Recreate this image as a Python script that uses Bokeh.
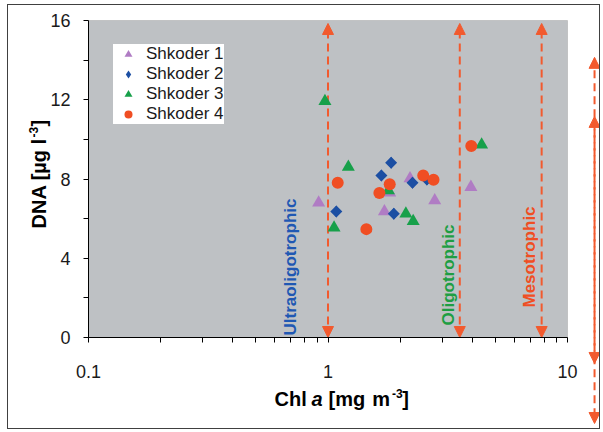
import math
from bokeh.plotting import figure
from bokeh.models import (FixedTicker, Arrow, NormalHead, Label, Legend, LegendItem,
                          Range1d, NumeralTickFormatter, BoxAnnotation)
from bokeh.embed import file_html
from bokeh.resources import INLINE

# ---------------- data ----------------
series_names = ["Shkoder 1", "Shkoder 2", "Shkoder 3", "Shkoder 4"]
s1_chl = [0.914, 1.72, 1.81, 2.20, 2.79, 3.95]
s1_dna = [6.80, 6.36, 7.31, 8.02, 6.92, 7.59]
s2_chl = [1.083, 1.835, 1.671, 1.883, 2.253, 2.588]
s2_dna = [6.36, 8.82, 8.18, 6.25, 7.81, 7.98]
s3_chl = [0.971, 1.216, 1.060, 1.788, 2.114, 2.268, 4.38]
s3_dna = [11.92, 8.60, 5.54, 7.42, 6.25, 5.87, 9.73]
s4_chl = [1.098, 1.446, 1.81, 1.639, 2.498, 2.758, 3.965]
s4_dna = [7.81, 5.47, 7.74, 7.29, 8.18, 7.96, 9.66]

x_lim = [0.1, 10]
y_lim = [0, 16]
x_ticks = [0.1, 1, 10]
x_minor = [0.2, 0.3, 0.4, 0.5, 0.6, 0.7, 0.8, 0.9, 2, 3, 4, 5, 6, 7, 8, 9]
y_ticks = [0, 4, 8, 12, 16]
y_minor = [2, 6, 10, 14]

trophic_x = [1.0, 3.55, 7.8]
trophic_y = [0.0, 15.85]
trophic_labels = ["Ultraoligotrophic", "Oligotrophic", "Mesotrophic"]
# stray arrows drawn at the right edge, outside the plot area
stray_x = 12.97
stray_y = [(14.14, -4.34), (11.16, -1.31)]

# ---------------- geometry (canvas pixels) ----------------
W, H = 593, 425
PX_LEFT, PX_RIGHT = 80, 559      # canvas x of 0.1 and 10
PX_TOP, PX_BOTTOM = 15, 332      # canvas y of 16 and 0
dec = (PX_RIGHT - PX_LEFT) / 2.0
x0 = 10 ** (-1 - PX_LEFT / dec)
x1 = 10 ** (1 + (W - PX_RIGHT) / dec)
unit = (PX_BOTTOM - PX_TOP) / 16.0
y1 = 16 + PX_TOP / unit
y0 = -(H - PX_BOTTOM) / unit

# ---------------- style ----------------
FONT = "Liberation Sans"
C_PURPLE = "#b07cc4"
C_BLUE = "#1c4fa3"
C_GREEN = "#17a04a"
C_RED = "#f04e23"
C_ARROW = "#f25a2e"
LABEL_COLORS = ["#1f58b3", "#1e9e43", "#f04e23"]

p = figure(width=W, height=H, x_axis_type="log",
           x_range=Range1d(x0, x1), y_range=Range1d(y0, y1),
           output_backend="svg", toolbar_location=None,
           min_border_left=0, min_border_right=0,
           min_border_top=0, min_border_bottom=0)
p.styles = {"border": "1px solid #404040", "margin-left": "7px", "margin-top": "4px"}
p.background_fill_color = "white"
p.border_fill_color = "white"
p.outline_line_color = None
p.xgrid.visible = False
p.ygrid.visible = False

# grey plot area
p.add_layout(BoxAnnotation(left=x_lim[0], right=x_lim[1], bottom=y_lim[0], top=y_lim[1],
                           fill_color="#bec1c4", fill_alpha=1.0,
                           line_color="#808080", line_width=1, level="underlay"))

p.xaxis.ticker = FixedTicker(ticks=x_ticks, minor_ticks=x_minor)
p.xaxis.formatter = NumeralTickFormatter(format="0.[0]")
p.yaxis.ticker = FixedTicker(ticks=y_ticks, minor_ticks=y_minor)
p.xaxis.fixed_location = y_lim[0]
p.yaxis.fixed_location = x_lim[0]
p.xaxis.bounds = tuple(x_lim)
p.yaxis.bounds = tuple(y_lim)

for ax in (p.xaxis[0], p.yaxis[0]):
    ax.axis_line_color = "black"
    ax.major_tick_line_color = "black"
    ax.minor_tick_line_color = "black"
    ax.major_tick_in = 0
    ax.minor_tick_in = 0
    ax.major_tick_out = 5
    ax.minor_tick_out = 5
    ax.major_label_text_font = FONT
    ax.major_label_text_font_size = "18px"
    ax.major_label_text_color = "#1a1a1a"
    ax.axis_label = None
p.xaxis.major_label_standoff = 22
p.yaxis.major_label_standoff = 13

# ---------------- trophic arrows ----------------
def arrow(xv, ya, yb):
    p.add_layout(Arrow(start=NormalHead(size=11, fill_color=C_ARROW, line_color=C_ARROW),
                       end=NormalHead(size=11, fill_color=C_ARROW, line_color=C_ARROW),
                       x_start=xv, y_start=ya, x_end=xv, y_end=yb,
                       line_color=C_ARROW, line_width=2, line_dash="8 5", level="underlay"))

for xv in trophic_x:
    arrow(xv, trophic_y[0], trophic_y[1])
for (ya, yb) in stray_y:
    arrow(stray_x, ya, yb)

def lab(text, sx, sy, size="20px", style="bold", angle=0.0, color="black"):
    p.add_layout(Label(x=sx, y=sy, x_units="screen", y_units="screen", text=text,
                       angle=angle, text_font=FONT, text_font_style=style,
                       text_font_size=size, text_color=color,
                       text_align="left", text_baseline="alphabetic"))

# rotated trophic labels (screen units, origin bottom-left of canvas)
trophic_label_pos = [(282, 95), (440, 105), (521, 123)]
for txt, col, (sx, sy) in zip(trophic_labels, LABEL_COLORS, trophic_label_pos):
    lab(txt, sx, sy, size="17px", angle=math.pi / 2, color=col)

# ---------------- data markers ----------------
r1 = p.scatter(s1_chl, s1_dna, marker="triangle", size=13, fill_color=C_PURPLE, line_color=None)
# diamond (used for the legend glyph), fully covered by the rotated square drawn on top
r2_leg = p.scatter(s2_chl, s2_dna, marker="diamond", size=12, fill_color=C_BLUE, line_color=None)
r2 = p.scatter(s2_chl, s2_dna, marker="square", angle=math.pi / 4, size=8.5,
               fill_color=C_BLUE, line_color=None)
r3 = p.scatter(s3_chl, s3_dna, marker="triangle", size=13, fill_color=C_GREEN, line_color=None)
r4 = p.scatter(s4_chl, s4_dna, marker="circle", size=12, fill_color=C_RED, line_color=None)

legend = Legend(items=[LegendItem(label=n, renderers=[r])
                       for n, r in zip(series_names, [r1, r2_leg, r3, r4])],
                location=(105, 306), padding=1, spacing=0, margin=0,
                glyph_width=30, glyph_height=20, label_height=20, label_standoff=3,
                label_text_font=FONT, label_text_font_size="17px", label_text_color="#1a1a1a",
                background_fill_color="white", background_fill_alpha=1.0,
                border_line_color=None)
p.add_layout(legend)

# ---------------- axis titles ----------------
# x title: Chl a [mg m-3]
lab("Chl", 266, 32)
lab("a", 303, 32, style="bold italic")
lab("[mg", 320, 32)
lab("m", 363.7, 32)
lab("-3", 383.5, 37.5, size="12px")
lab("]", 393.7, 32)
# y title: DNA [µg l-3]
lab("DNA [µg l", 30, 202, angle=math.pi / 2)
lab("-3", 24.5, 293, size="12px", angle=math.pi / 2)
lab("]", 30, 304, angle=math.pi / 2)

open("out.html", "w").write(file_html(p, INLINE))
